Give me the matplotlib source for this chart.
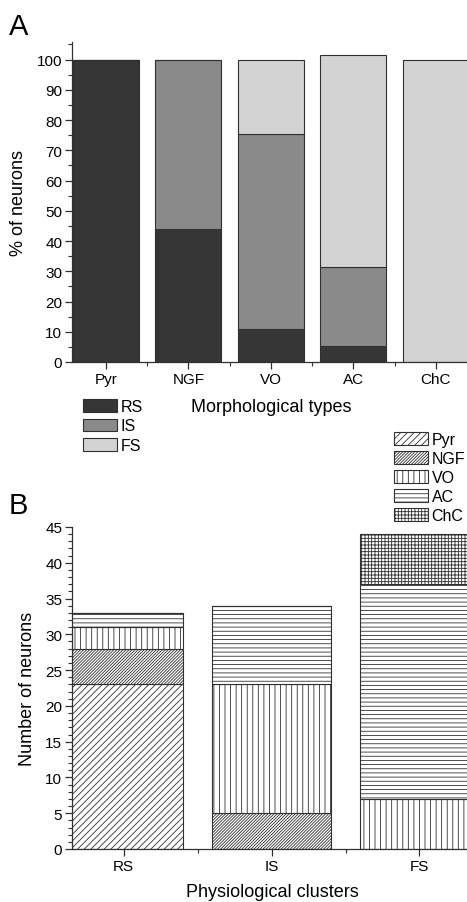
import matplotlib
matplotlib.use("Agg")
import matplotlib.pyplot as plt
from matplotlib.patches import Patch
from matplotlib.ticker import MultipleLocator
import numpy as np

plt.rcParams['font.family'] = ['Liberation Sans', 'DejaVu Sans']
plt.rcParams['hatch.linewidth'] = 0.6

# ---- Panel A data (% of neurons) ----
morph_types = ["Pyr", "NGF", "VO", "AC", "ChC"]
pct_RS = [100, 44, 11, 5.3, 0]
pct_IS = [0, 56, 64.5, 26.2, 0]
pct_FS = [0, 0, 24.5, 70.0, 100]
phys_names = ["RS", "IS", "FS"]
phys_colors = ["#363636", "#8a8a8a", "#d3d3d3"]

# ---- Panel B data (number of neurons) ----
clusters = ["RS", "IS", "FS"]
n_Pyr = [23, 0, 0]
n_NGF = [5, 5, 0]
n_VO = [3, 18, 7]
n_AC = [2, 11, 30]
n_ChC = [0, 0, 7]
morph_hatches = ["/////", "///////////", "|||", "----", "+++++"]

W, H = 467, 903
fig = plt.figure(figsize=(W / 100, H / 100), dpi=100)

def fx(px):
    return px / W

def fy(py):
    return 1 - py / H

edge = "#303030"

# ---------------- Panel A ----------------
axA = fig.add_axes([fx(72), fy(363), fx(405), (363 - 43) / H])
x = np.arange(len(morph_types))
bottom = np.zeros(len(morph_types))
for vals, col in zip([pct_RS, pct_IS, pct_FS], phys_colors):
    vals = np.array(vals, dtype=float)
    axA.bar(x, vals, 0.8, bottom=bottom, color=col, edgecolor=edge, linewidth=0.8)
    bottom += vals
axA.set_xlim(-0.41, 4.5)
axA.set_ylim(0, 105.8)
axA.set_yticks(np.arange(0, 101, 10))
axA.yaxis.set_minor_locator(MultipleLocator(5))
axA.set_xticks(x)
axA.set_xticklabels(morph_types)
axA.xaxis.set_minor_locator(MultipleLocator(0.5))
for s in ["top", "right"]:
    axA.spines[s].set_visible(False)
for s in ["left", "bottom"]:
    axA.spines[s].set_color(edge)
    axA.spines[s].set_linewidth(0.9)
axA.tick_params(axis="both", which="major", length=5, width=0.9, color=edge,
                labelsize=11, pad=2)
axA.tick_params(axis="both", which="minor", length=3, width=0.8, color=edge)
axA.set_ylabel("% of neurons", fontsize=13, labelpad=7)
fig.text(fx(271), fy(408), "Morphological types", fontsize=13, ha="center", va="center")

handlesA = [Patch(facecolor=c, edgecolor=edge, linewidth=0.8) for c in phys_colors]
legA = fig.legend(handlesA, phys_names, loc="upper left",
                  bbox_to_anchor=(fx(83), fy(400)), frameon=False, fontsize=11.5,
                  handlelength=2.1, handleheight=0.8, handletextpad=0.25,
                  labelspacing=0.28, borderpad=0, borderaxespad=0)

fig.text(fx(9), fy(35), "A", fontsize=21, ha="left", va="baseline")

# ---------------- Panel B ----------------
axB = fig.add_axes([fx(72), fy(850), fx(414), 322 / H])
xb = np.arange(len(clusters))
bottom = np.zeros(len(clusters))
for vals, h in zip([n_Pyr, n_NGF, n_VO, n_AC, n_ChC], morph_hatches):
    vals = np.array(vals, dtype=float)
    axB.bar(xb, vals, 0.8, bottom=bottom, color="white", edgecolor=edge,
            linewidth=0.8, hatch=h)
    bottom += vals
axB.set_xlim(-0.35, 2.45)
axB.set_ylim(0, 45)
axB.set_yticks(np.arange(0, 46, 5))
axB.yaxis.set_minor_locator(MultipleLocator(1))
axB.set_xticks(xb)
axB.set_xticklabels(clusters)
axB.xaxis.set_minor_locator(MultipleLocator(0.5))
for s in ["top", "right"]:
    axB.spines[s].set_visible(False)
for s in ["left", "bottom"]:
    axB.spines[s].set_color(edge)
    axB.spines[s].set_linewidth(0.9)
axB.tick_params(axis="both", which="major", length=5, width=0.9, color=edge,
                labelsize=11, pad=2)
axB.tick_params(axis="both", which="minor", length=3, width=0.8, color=edge)
axB.set_ylabel("Number of neurons", fontsize=13, labelpad=7)
fig.text(fx(272), fy(893), "Physiological clusters", fontsize=13, ha="center", va="center")

handlesB = [Patch(facecolor="white", edgecolor=edge, linewidth=0.8, hatch=h)
            for h in morph_hatches]
legB = fig.legend(handlesB, morph_types, loc="upper left",
                  bbox_to_anchor=(fx(394), fy(433)), frameon=False, fontsize=11.5,
                  handlelength=2.1, handleheight=0.8, handletextpad=0.25,
                  labelspacing=0.25, borderpad=0, borderaxespad=0)

fig.text(fx(9), fy(514), "B", fontsize=21, ha="left", va="baseline")

fig.savefig("out.png", dpi=100)
